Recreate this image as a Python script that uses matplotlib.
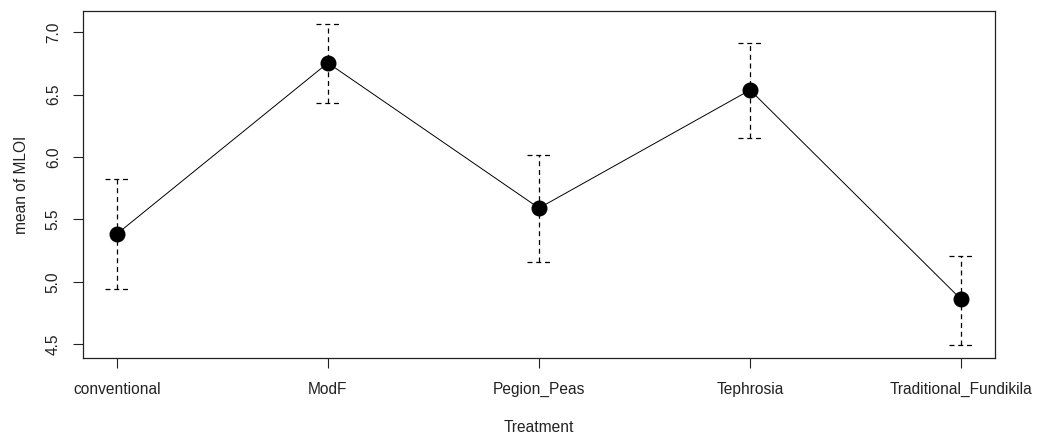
import matplotlib
matplotlib.use("Agg")
import matplotlib.pyplot as plt

# ── Дані ───────────────────────────────────────────────
treatments = ["conventional", "ModF", "Pegion_Peas", "Tephrosia", "Traditional_Fundikila"]
means = [5.383, 6.754, 5.591, 6.537, 4.859]
upper = [5.824, 7.067, 6.016, 6.914, 5.206]
lower = [4.945, 6.433, 5.158, 6.152, 4.493]

plt.rcParams['font.family'] = ['Liberation Sans', 'DejaVu Sans']

fig = plt.figure(figsize=(10.37, 4.36), dpi=100)
ax = fig.add_axes([83/1037, (436-358)/436, (995-83)/1037, (358-11)/436])

x = list(range(len(treatments)))
cap = 0.057
ls = (0, (4, 3))

ax.vlines(x, lower, upper, colors='black', linestyles=ls, lw=0.9)
ax.hlines(upper, [i - cap for i in x], [i + cap for i in x],
          colors='black', linestyles=ls, lw=0.9)
ax.hlines(lower, [i - cap for i in x], [i + cap for i in x],
          colors='black', linestyles=ls, lw=0.9)
ax.plot(x, means, color='black', lw=0.7, marker='o', ms=10.5,
        markerfacecolor='black', zorder=5)

ax.set_xlim(-0.16, 4.16)
ax.set_ylim(4.39, 7.17)
ax.set_xticks(x)
ax.set_xticklabels(treatments)
ax.set_yticks([4.5, 5.0, 5.5, 6.0, 6.5, 7.0])
ax.set_yticklabels(["4.5", "5.0", "5.5", "6.0", "6.5", "7.0"],
                   rotation=90, va='center')
ax.tick_params(direction='out', length=7, width=0.8, labelsize=11.2,
               colors='#222222', pad=9)
ax.tick_params(axis='x', pad=10)
for sp in ax.spines.values():
    sp.set_color('#222222')
    sp.set_linewidth(0.9)

ax.set_xlabel("Treatment", fontsize=11.2, color='#222222', labelpad=17)
ax.set_ylabel("mean of MLOI", fontsize=11.2, color='#222222', labelpad=12)

fig.savefig("out.png", dpi=100)
